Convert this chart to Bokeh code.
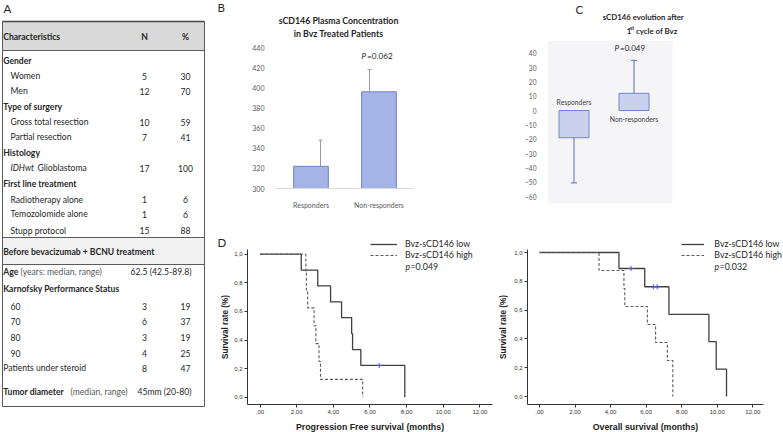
import math
from bokeh.plotting import figure
from bokeh.layouts import row, column
from bokeh.models import Range1d, Label, FixedTicker, Legend, LegendItem, ColumnDataSource
from bokeh.core.properties import value
from bokeh.embed import file_html
from bokeh.resources import INLINE

# ---------------- data ----------------
# Panel A: patient characteristics table
tbl_label = ["Characteristics", "Gender", "Women", "Men", "Type of surgery",
             "Gross total resection", "Partial resection", "Histology",
             "IDHwt", "First line treatment", "Radiotherapy alone",
             "Temozolomide alone", "Stupp protocol",
             "Before bevacizumab +  BCNU treatment", "Age",
             "Karnofsky Performance Status", "60", "70", "80", "90",
             "Patients under steroid", "Tumor diameter"]
tbl_tail = ["", "", "", "", "", "", "", "", "Glioblastoma", "", "", "", "", "",
            "(years: median, range)", "", "", "", "", "", "", "(median, range)"]
tbl_style = ["bold", "bold", "normal", "normal", "bold", "normal", "normal", "bold",
             "italic", "bold", "normal", "normal", "normal", "bold", "bold", "bold",
             "normal", "normal", "normal", "normal", "normal", "bold"]
tbl_indent = [0, 0, 1, 1, 0, 1, 1, 0, 1, 0, 1, 1, 1, 0, 0, 0, 1, 1, 1, 1, 0, 0]
tbl_n = ["N", "", "5", "12", "", "10", "7", "", "17", "", "1", "1", "15", "", "", "",
         "3", "6", "3", "4", "8", ""]
tbl_pct = ["%", "", "30", "70", "", "59", "41", "", "100", "", "6", "6", "88", "", "", "",
           "19", "37", "19", "25", "47", ""]
tbl_range = ["", "", "", "", "", "", "", "", "", "", "", "", "", "",
             "62.5 (42.5-89.8)", "", "", "", "", "", "", "45mm  (20-80)"]

# Panel B: sCD146 plasma concentration
b_groups = ["Responders", "Non-responders"]
b_mean = [322, 396]
b_err = [26, 22]
b_ticks = [300, 320, 340, 360, 380, 400, 420, 440]

# Panel C: sCD146 evolution after 1st cycle
c_groups = ["Responders", "Non-responders"]
c_mean = [-19, 12]
c_err = [-31.5, 23]
c_ticks = [-60, -50, -40, -30, -20, -10, 0, 10, 20, 30, 40]

# Panel D: Kaplan-Meier curves
pfs_low_t = [0, 2.25, 3.15, 3.85, 4.45, 5.0, 5.05, 5.5, 7.9]
pfs_low_s = [1.0, 0.889, 0.778, 0.667, 0.556, 0.444, 0.333, 0.222, 0.0]
pfs_high_t = [0, 2.5, 2.53, 2.6, 2.95, 3.05, 3.22, 3.3, 5.6]
pfs_high_s = [1.0, 0.875, 0.75, 0.625, 0.5, 0.375, 0.25, 0.125, 0.0]
pfs_cens_t = [6.5]
pfs_cens_s = [0.222]
os_low_t = [0, 4.47, 5.92, 7.28, 9.53, 9.94, 10.52]
os_low_s = [1.0, 0.889, 0.762, 0.571, 0.381, 0.190, 0.0]
os_high_t = [0, 3.35, 4.75, 4.8, 6.07, 6.53, 7.19, 7.5]
os_high_s = [1.0, 0.875, 0.75, 0.625, 0.5, 0.375, 0.25, 0.0]
os_cens_t = [5.15, 6.4, 6.62]
os_cens_s = [0.889, 0.762, 0.762]
km_xticks = [0, 2, 4, 6, 8, 10, 12]
km_xlabels = [",00", "2,00", "4,00", "6,00", "8,00", "10,00", "12,00"]
km_yticks = [0.0, 0.2, 0.4, 0.6, 0.8, 1.0]
km_ylabels = ["0,0", "0,2", "0,4", "0,6", "0,8", "1,0"]

# ---------------- layout helpers ----------------
SX = 1.0
SY = 1.0
SF = 1.0
FONT = "Lato"
ARIAL = "Liberation Sans"
TXT = "#262626"


def lin(a0, a1, b0, b1):
    # linear map from reference-pixel coordinate to range value
    return lambda v: b0 + (v - a0) / (a1 - a0) * (b1 - b0)


def make_fig(box, frame, fx, fy, **kw):
    """box/frame in page px; fx, fy map page px -> data."""
    bx0, by0, bx1, by1 = box
    fx0, fy0, fx1, fy1 = frame
    W = round(bx1 * SX) - round(bx0 * SX)
    H = round(by1 * SY) - round(by0 * SY)
    left = round((fx0 - bx0) * SX)
    right = W - left - round((fx1 - fx0) * SX)
    top = round((fy0 - by0) * SY)
    bottom = H - top - round((fy1 - fy0) * SY)
    p = figure(width=W, height=H, x_range=Range1d(fx(fx0), fx(fx1)),
               y_range=Range1d(fy(fy1), fy(fy0)),
               toolbar_location=None, output_backend="svg",
               min_border_left=left, min_border_right=right,
               min_border_top=top, min_border_bottom=bottom, **kw)
    p.outline_line_color = None
    p.xgrid.grid_line_color = None
    p.ygrid.grid_line_color = None

    def conv(rx, ry):
        return fx(rx), fy(ry)

    def screen(rx, ry):
        return (rx - fx0) * SX, (fy1 - ry) * SY

    return p, conv, screen


def put(p, conv, rx, ry, text, size, style="normal", align="left", color=TXT,
        font=FONT, angle=0):
    x, y = conv(rx, ry)
    p.add_layout(Label(x=x, y=y, text=text, text_font=font,
                       text_font_size=f"{size * SF:.2f}px", text_font_style=style,
                       text_align=align, text_baseline="middle", text_color=color,
                       angle=angle))


ident = lambda v: v

# ---------------- Panel A (canvas, also holds panel letters B / D) ----------------
pa, ca, _ = make_fig((0, 0, 230, 432), (0, 0, 230, 432), ident, ident,
                     x_axis_location=None, y_axis_location=None)
pa.quad(left=[2, 2], right=[204, 204], top=[21, 237], bottom=[50, 264],
        fill_color=["#d9d9d9", "#f2f2f2"], line_color=None)
pa.segment(x0=[2, 2, 2, 2, 2, 204], y0=[50, 237, 264, 406, 21, 21],
           x1=[204, 204, 204, 204, 2, 204], y1=[50, 237, 264, 406, 406, 406],
           line_color="#5a5a5a", line_width=1)
pa.segment(x0=[2], y0=[21], x1=[204], y1=[21], line_color="#444444", line_width=1.6)

row_y = [36.7, 60, 75.5, 90.7, 106, 121.7, 136.7, 152.3, 167.7, 183.3, 199, 213.7,
         230, 251, 271.7, 288.7, 306, 321.3, 336.7, 352.7, 367.7, 391]
tail_x = [0, 0, 0, 0, 0, 0, 0, 0, 37, 0, 0, 0, 0, 0, 20, 0, 0, 0, 0, 0, 0, 70]
fs_tbl = f"{8.6 * SF:.2f}px"

src_main = ColumnDataSource(dict(
    x=[2.7 + 7.3 * i for i in tbl_indent], y=row_y, t=tbl_label, st=tbl_style))
pa.text(x="x", y="y", text="t", source=src_main, text_font=value(FONT),
        text_font_size=fs_tbl, text_font_style="st", text_baseline="middle",
        text_color=TXT)
ti = [i for i, t in enumerate(tbl_tail) if t]
pa.text(x=[tail_x[i] for i in ti], y=[row_y[i] for i in ti],
        text=[tbl_tail[i] for i in ti], text_font=value(FONT), text_font_size=fs_tbl,
        text_baseline="middle", text_color=["#262626", "#595959", "#595959"])
ni = [i for i, t in enumerate(tbl_n) if t]
pa.text(x=[144] * len(ni), y=[row_y[i] for i in ni], text=[tbl_n[i] for i in ni],
        text_font=value(FONT), text_font_size=fs_tbl, text_align="center",
        text_baseline="middle", text_color=TXT,
        text_font_style=["bold" if tbl_n[i] == "N" else "normal" for i in ni])
pi = [i for i, t in enumerate(tbl_pct) if t]
pa.text(x=[185] * len(pi), y=[row_y[i] for i in pi], text=[tbl_pct[i] for i in pi],
        text_font=value(FONT), text_font_size=fs_tbl, text_align="center",
        text_baseline="middle", text_color=TXT,
        text_font_style=["bold" if tbl_pct[i] == "%" else "normal" for i in pi])
ri = [i for i, t in enumerate(tbl_range) if t]
pa.text(x=[130, 137], y=[row_y[i] for i in ri], text=[tbl_range[i] for i in ri],
        text_font=value(FONT), text_font_size=fs_tbl, text_baseline="middle",
        text_color=TXT)
put(pa, ca, 3, 7.5, "A", 11.5)
put(pa, ca, 217, 6.5, "B", 11.5)
put(pa, ca, 217, 242, "D", 11.5)
put(pa, ca, 225, 326.5, "Survival rate (%)", 8.2, "bold", "center", "#222222",
    ARIAL, math.pi / 2)

# ---------------- Panel B ----------------
bfx = lin(310.5, 378.5, 0.5, 1.5)
bfy = lin(188, 47, 300, 440)
pb, cb, _ = make_fig((230, 0, 470, 221), (272, 12, 470, 188), bfx, bfy)
bx = [i + 0.5 for i in range(len(b_groups))]
pb.vbar(x=bx, top=b_mean, bottom=b_ticks[0], width=0.51,
        fill_color="#a5b4e6", line_color="#6b82cf", line_width=1)
b_off = [0.14, -0.14]
wx = [bx[i] + b_off[i] for i in range(len(bx))]
wtop = [b_mean[i] + b_err[i] for i in range(len(bx))]
pb.segment(x0=wx, y0=b_mean, x1=wx, y1=wtop, line_color="#9a9a9a", line_width=1)
pb.segment(x0=[w - 0.03 for w in wx], y0=wtop, x1=[w + 0.03 for w in wx], y1=wtop,
           line_color="#9a9a9a", line_width=1)
pb.yaxis.ticker = FixedTicker(ticks=b_ticks)
pb.xaxis.ticker = FixedTicker(ticks=bx)
pb.xaxis.major_label_overrides = {bx[i]: b_groups[i] for i in range(len(bx))}
pb.xaxis.bounds = (bfx(275), bfx(413))
pb.yaxis.axis_line_color = None
pb.axis.major_tick_line_color = None
pb.axis.minor_tick_line_color = None
pb.xaxis.axis_line_color = "#d9d9d9"
pb.axis.major_label_text_font = FONT
pb.axis.major_label_text_font_size = f"{7 * SF:.2f}px"
pb.axis.major_label_text_color = "#595959"
pb.yaxis.major_label_standoff = 2
pb.xaxis.major_label_standoff = 6
put(pb, cb, 338, 20, "sCD146 Plasma Concentration", 8.8, "bold", "center")
put(pb, cb, 338, 33.3, "in Bvz Treated Patients", 8.8, "bold", "center")
put(pb, cb, 361, 55, "P", 8.2, "italic")
put(pb, cb, 366.5, 55, "=0.062", 8.2)

# ---------------- Panel C ----------------
pch, chc, _ = make_fig((470, 0, 783, 40), (470, 0, 783, 40), ident, ident,
                       x_axis_location=None, y_axis_location=None)
put(pch, chc, 507, 9, "C", 11.5)
put(pch, chc, 597, 16.7, "sCD146 evolution after", 7.8, "bold", "center")
put(pch, chc, 575, 30, "1", 7.8, "bold")
put(pch, chc, 579.5, 27, "st", 5.2, "bold")
put(pch, chc, 587.5, 30, "cycle of Bvz", 7.8, "bold")

cfx = lin(573.5, 633.5, 0.5, 1.5)
cfy = lin(52.7, 196, 40, -60)
pc, cc, _ = make_fig((470, 40, 783, 221), (547, 40, 783, 221), cfx, cfy,
                     x_axis_location=None)
pc.quad(left=[cfx(547)], right=[cfx(672)], top=[cfy(40)], bottom=[cfy(203)],
        fill_color="#f5f5f7", line_color=None)
cx = [i + 0.5 for i in range(len(c_groups))]
pc.vbar(x=cx, top=c_mean, bottom=0, width=0.5,
        fill_color="#c9d1ec", line_color="#6f86cc", line_width=1)
cend = [c_mean[i] + c_err[i] for i in range(len(cx))]
pc.segment(x0=cx, y0=c_mean, x1=cx, y1=cend, line_color="#5471c4", line_width=1)
pc.segment(x0=[x - 0.05 for x in cx], y0=cend, x1=[x + 0.05 for x in cx], y1=cend,
           line_color="#5471c4", line_width=1)
pc.yaxis.ticker = FixedTicker(ticks=c_ticks)
pc.yaxis.axis_line_color = None
pc.yaxis.major_tick_line_color = None
pc.yaxis.minor_tick_line_color = None
pc.yaxis.major_label_text_font = FONT
pc.yaxis.major_label_text_font_size = f"{6.6 * SF:.2f}px"
pc.yaxis.major_label_text_color = "#595959"
pc.yaxis.major_label_standoff = 5
put(pc, cc, 614, 47, "P", 8, "italic")
put(pc, cc, 619.5, 47, "=0.049", 8)
put(pc, cc, 573.5, 101.5, c_groups[0], 6.8, align="center", color="#404040")
put(pc, cc, 633.5, 118, c_groups[1], 6.8, align="center", color="#404040")


# ---------------- Panel D ----------------
def km_panel(box, frame, x0px, upx, y0px, y1px, ax_end, low_t, low_s, high_t, high_s,
             cens_t, cens_s, leg_x, glyph_w, standoff, pval, ytitle_x=None):
    fx = lin(x0px, x0px + upx, 0, 1)
    fy = lin(y0px, y1px, 0, 1)
    p, cv, scr = make_fig(box, frame, fx, fy)
    r_low = p.step(low_t, low_s, mode="after", line_color="#404040", line_width=1.3)
    r_high = p.step(high_t, high_s, mode="after", line_color="#5a5a5a",
                    line_width=1.1, line_dash="3 2")
    p.scatter(cens_t, cens_s, marker="cross", size=5, line_color="#4453d6",
              line_width=1)
    p.xaxis.ticker = FixedTicker(ticks=km_xticks)
    p.xaxis.major_label_overrides = dict(zip(km_xticks, km_xlabels))
    p.yaxis.ticker = FixedTicker(ticks=km_yticks)
    p.yaxis.major_label_overrides = dict(zip(km_yticks, km_ylabels))
    p.xaxis.bounds = (fx(frame[0]), fx(ax_end))
    p.yaxis.bounds = (fy(404), fy(249))
    p.axis.axis_line_color = "#333333"
    p.axis.major_tick_line_color = "#333333"
    p.axis.major_tick_out = 3
    p.axis.major_tick_in = 0
    p.axis.minor_tick_line_color = None
    p.axis.major_label_text_font = ARIAL
    p.axis.major_label_text_font_size = f"{6 * SF:.2f}px"
    p.axis.major_label_text_color = "#333333"
    p.axis.major_label_standoff = 2
    vx, vy = scr(leg_x, 260)
    leg = Legend(items=[LegendItem(label="Bvz-sCD146 low", renderers=[r_low]),
                        LegendItem(label="Bvz-sCD146 high", renderers=[r_high])],
                 location=(vx, vy), orientation="vertical",
                 label_text_font=FONT, label_text_font_size=f"{8.8 * SF:.2f}px",
                 label_text_color=TXT, glyph_width=glyph_w, glyph_height=10,
                 label_height=10, label_standoff=standoff, spacing=0, padding=0,
                 margin=0, border_line_color=None, background_fill_alpha=0)
    p.add_layout(leg)
    tx = leg_x + glyph_w / SX + standoff / SX
    put(p, cv, tx, 265.5, "p", 8.8, "italic")
    put(p, cv, tx + 5, 265.5, pval, 8.8)
    if ytitle_x is not None:
        put(p, cv, ytitle_x, 326.5, "Survival rate (%)", 8.2, "bold", "center",
            "#222222", ARIAL, math.pi / 2)
    return p


pd1 = km_panel((230, 221, 508, 420), (247, 221, 508, 404), 259.5, 18.33, 396.7, 253.7,
               492, pfs_low_t, pfs_low_s, pfs_high_t, pfs_high_s, pfs_cens_t,
               pfs_cens_s, 370, 27, 8, "=0.049", ytitle_x=503)
pd2 = km_panel((508, 221, 783, 420), (526.7, 221, 783, 404), 538.7, 17.8, 396, 252,
               763, os_low_t, os_low_s, os_high_t, os_high_s, os_cens_t, os_cens_s,
               681, 23, 10, "=0.032")

# x-axis titles strip
pst, cst, _ = make_fig((230, 420, 783, 432), (230, 420, 783, 432), ident, ident,
                       x_axis_location=None, y_axis_location=None)
put(pst, cst, 369.5, 426, "Progression Free survival (months)", 8.8, "bold", "center",
    "#222222", ARIAL)
put(pst, cst, 645, 426, "Overall survival (months)", 8.8, "bold", "center",
    "#222222", ARIAL)

layout = row(pa, column(row(pb, column(pch, pc)), row(pd1, pd2), pst))
open("out.html", "w").write(file_html(layout, INLINE))
